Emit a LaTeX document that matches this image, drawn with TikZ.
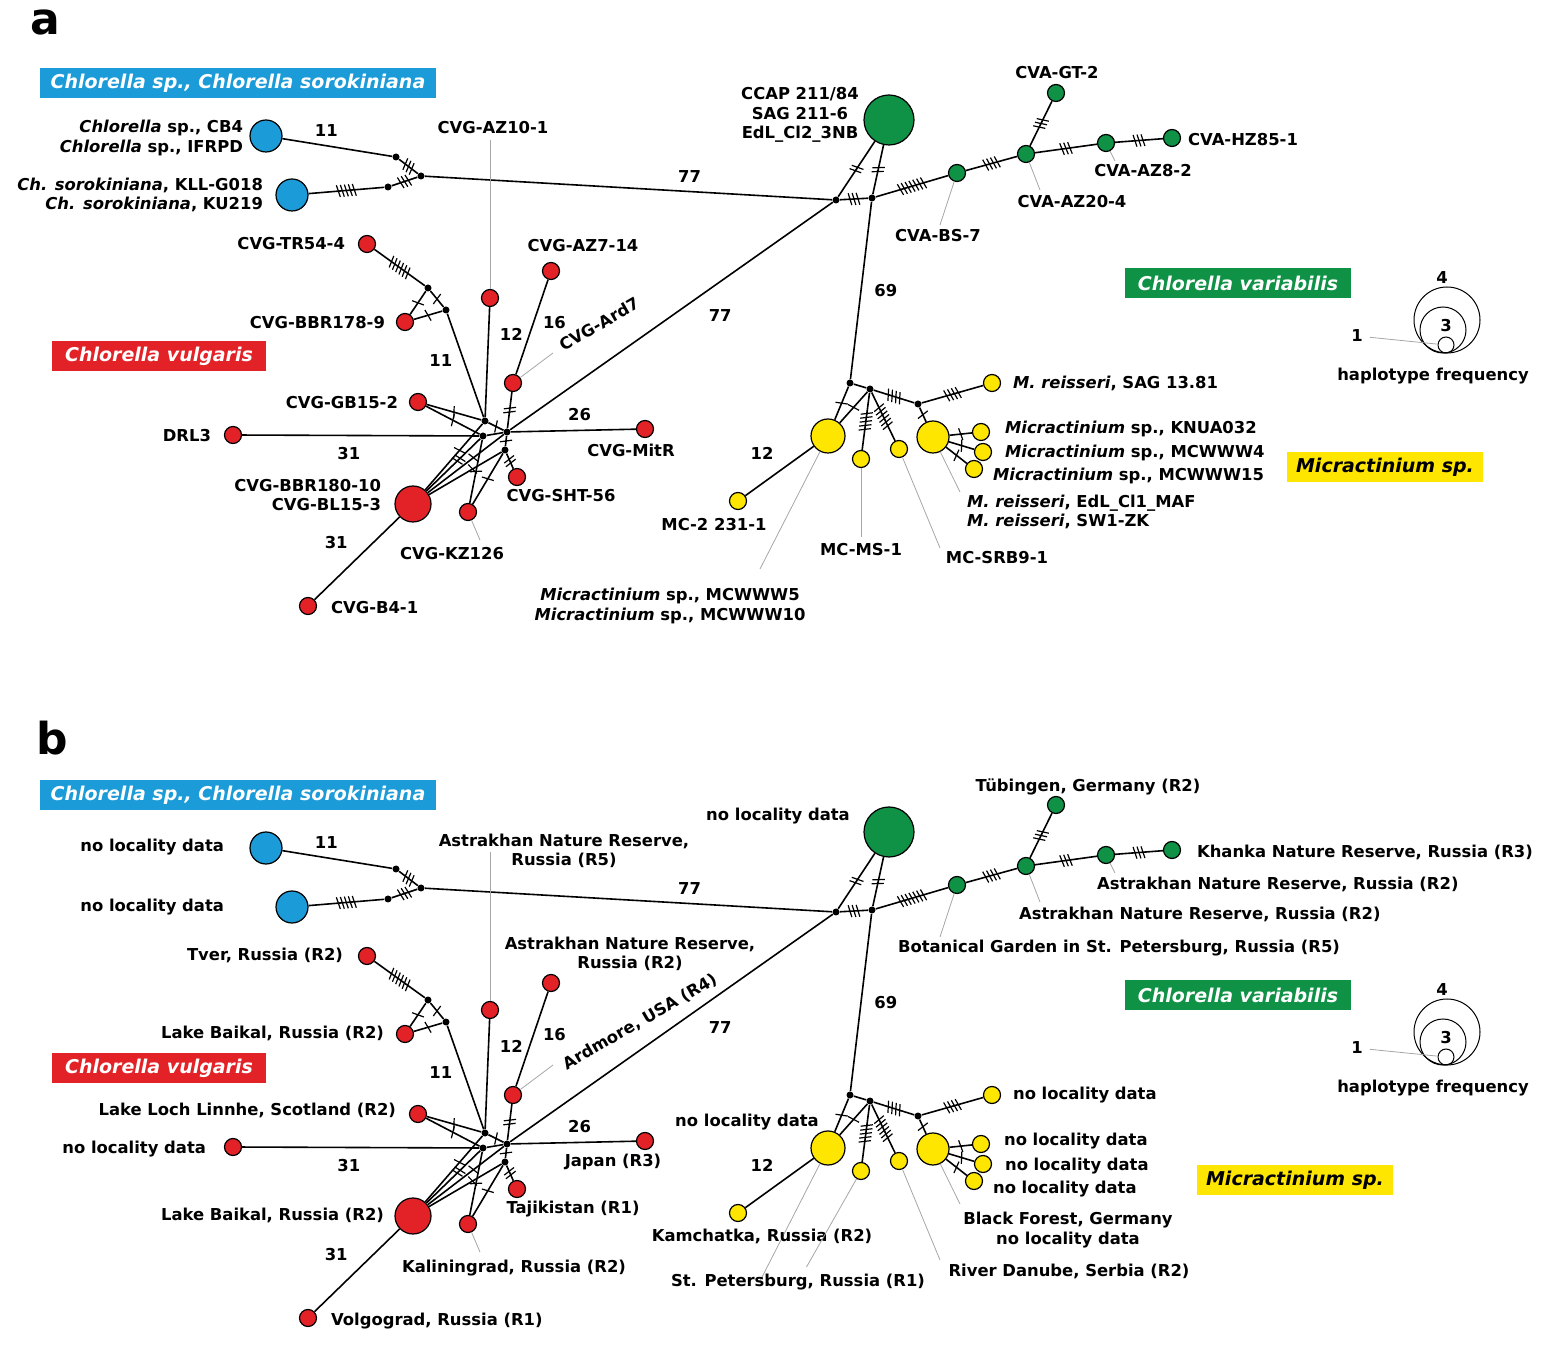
\documentclass[tikz,border=0pt]{standalone}
\usepackage{fontspec}
\setmainfont{DejaVu Sans}
\begin{document}
\definecolor{cR}{HTML}{E32227}\definecolor{cG}{HTML}{0F9146}
\definecolor{cB}{HTML}{1B9BD7}\definecolor{cY}{HTML}{FFE600}
\begin{tikzpicture}[x=0.5pt,y=-0.5pt,font=\fontsize{8.2}{9.7}\selectfont\bfseries,
  hap/.style={circle,draw=black,line width=0.6pt,inner sep=0pt,minimum size=#1},
  R/.style={hap=#1,fill=cR},G/.style={hap=#1,fill=cG},B/.style={hap=#1,fill=cB},Y/.style={hap=#1,fill=cY},
  mv/.style={circle,fill=black,inner sep=0pt,minimum size=3.5pt},
  e/.style={line width=0.8pt},
  ld/.style={draw=gray!70,line width=0.4pt},
  cat/.style={inner sep=2pt,font=\fontsize{9.5}{11}\selectfont\bfseries\itshape},
  tk/.pic={\foreach \i in {1,...,#1}{\draw[line width=0.6pt] ({(\i-(#1+1)/2)*4-1.5},-6) -- ({(\i-(#1+1)/2)*4+1.5},6);}}]
\useasboundingbox (0,0) rectangle (1549,1347);
\newcommand\hapnet[1]{%
 \node[B=16pt] (#1B1) at (266,136) {};
 \node[B=16pt] (#1B2) at (292,195) {};
 \node[mv] (#1m1) at (396,157) {};
 \node[mv] (#1m2) at (388,187) {};
 \node[mv] (#1m3) at (421,176) {};
 \node[mv] (#1J1) at (836,200) {};
 \node[mv] (#1J2) at (872,198) {};
 \node[G=25pt] (#1G0) at (889,120) {};
 \node[G=8.5pt] (#1BS) at (957,173) {};
 \node[G=8.5pt] (#1AZa) at (1026,154) {};
 \node[G=8.5pt] (#1GT) at (1056,93) {};
 \node[G=8.5pt] (#1AZb) at (1106,143) {};
 \node[G=8.5pt] (#1HZ) at (1172,138) {};
 \node[mv] (#1Y1) at (850,383) {};
 \node[mv] (#1Y2) at (870,389) {};
 \node[mv] (#1Y3) at (918,404) {};
 \node[Y=17pt] (#1YA) at (828,436) {};
 \node[Y=8.5pt] (#1MC2) at (738,501) {};
 \node[Y=8.5pt] (#1MS) at (861,459) {};
 \node[Y=8.5pt] (#1SRB) at (899,449) {};
 \node[Y=8.5pt] (#1MR) at (992,383) {};
 \node[Y=16pt] (#1YB) at (933,437) {};
 \node[Y=8.5pt] (#1K) at (981,432) {};
 \node[Y=8.5pt] (#1W4) at (983,452) {};
 \node[Y=8.5pt] (#1W15) at (974,469) {};
 \node[R=8.5pt] (#1TR) at (367,244) {};
 \node[R=8.5pt] (#1BBR) at (405,322) {};
 \node[mv] (#1r1) at (428,288) {};
 \node[mv] (#1r2) at (446,310) {};
 \node[mv] (#1h1) at (485,421) {};
 \node[mv] (#1h2) at (483,436) {};
 \node[mv] (#1h3) at (507,432) {};
 \node[mv] (#1h4) at (505,450) {};
 \node[R=8.5pt] (#1AZ10) at (490,298) {};
 \node[R=8.5pt] (#1AZ7) at (551,271) {};
 \node[R=8.5pt] (#1Ard) at (513,383) {};
 \node[R=8.5pt] (#1GB) at (418,402) {};
 \node[R=8.5pt] (#1DRL) at (233,435) {};
 \node[R=8.5pt] (#1Mit) at (645,429) {};
 \node[R=8.5pt] (#1SHT) at (517,477) {};
 \node[R=18pt] (#1BR) at (413,504) {};
 \node[R=8.5pt] (#1KZ) at (468,512) {};
 \node[R=8.5pt] (#1B4) at (308,606) {};
 \begin{scope}[e]
 \draw (#1B1) -- (#1m1) node[pos=.4,above=1pt]{11};
 \draw (#1m1) -- (#1m3) pic[pos=.5,sloped]{tk=3};
 \draw (#1B2) -- (#1m2) pic[pos=.5,sloped]{tk=5};
 \draw (#1m2) -- (#1m3) pic[pos=.5,sloped]{tk=3};
 \draw (#1m3) -- (#1J1) node[pos=.65,above=1pt]{77};
 \draw (#1J1) -- (#1J2) pic[pos=.5,sloped]{tk=3};
 \draw (#1J1) -- (#1G0) pic[pos=.5,sloped]{tk=2};
 \draw (#1J2) -- (#1G0) pic[pos=.5,sloped]{tk=2};
 \draw (#1J2) -- (#1BS) pic[pos=.5,sloped]{tk=7};
 \draw (#1BS) -- (#1AZa) pic[pos=.5,sloped]{tk=4};
 \draw (#1AZa) -- (#1GT) pic[pos=.5,sloped]{tk=3};
 \draw (#1AZa) -- (#1AZb) pic[pos=.5,sloped]{tk=3};
 \draw (#1AZb) -- (#1HZ) pic[pos=.5,sloped]{tk=3};
 \draw (#1J2) -- (#1Y1) node[pos=.5,right=3pt]{69};
 \draw (#1Y1) -- (#1Y2);
 \draw (#1Y1) -- (#1YA) pic[pos=.5,sloped]{tk=1};
 \draw (#1Y2) -- (#1YA) pic[pos=.5,sloped]{tk=1};
 \draw (#1YA) -- (#1MC2) node[pos=.45,above left=1pt]{12};
 \draw (#1Y2) -- (#1MS) pic[pos=.5,sloped]{tk=5};
 \draw (#1Y2) -- (#1SRB) pic[pos=.5,sloped]{tk=6};
 \draw (#1Y2) -- (#1Y3) pic[pos=.5,sloped]{tk=4};
 \draw (#1Y3) -- (#1MR) pic[pos=.5,sloped]{tk=4};
 \draw (#1Y3) -- (#1YB) pic[pos=.5,sloped]{tk=1};
 \draw (#1YB) -- (#1K) pic[pos=.5,sloped]{tk=1};
 \draw (#1YB) -- (#1W4) pic[pos=.5,sloped]{tk=1};
 \draw (#1YB) -- (#1W15) pic[pos=.5,sloped]{tk=1};
 \draw (#1TR) -- (#1r1) pic[pos=.5,sloped]{tk=6};
 \draw (#1r1) -- (#1BBR) pic[pos=.5,sloped]{tk=1};
 \draw (#1r2) -- (#1BBR) pic[pos=.5,sloped]{tk=1};
 \draw (#1r1) -- (#1r2) pic[pos=.5,sloped]{tk=1};
 \draw (#1r2) -- (#1h1) node[pos=.45,left=2pt]{11};
 \draw (#1AZ10) -- (#1h1) node[pos=.25,right=2pt]{12};
 \draw (#1AZ7) -- (#1Ard) node[pos=.45,right=1pt]{16};
 \draw (#1Ard) -- (#1h3) pic[pos=.5,sloped]{tk=2};
 \draw (#1GB) -- (#1h1) pic[pos=.5,sloped]{tk=1};
 \draw (#1GB) -- (#1h2) pic[pos=.5,sloped]{tk=1};
 \draw (#1DRL) -- (#1h2) node[pos=.45,below=2pt]{31};
 \draw (#1Mit) -- (#1h3) node[pos=.45,above=1pt]{26};
 \draw (#1h3) -- (#1J1) node[pos=.58,below right=2pt]{77};
 \draw (#1h1) -- (#1h3) pic[pos=.5,sloped]{tk=1};
 \draw (#1h2) -- (#1h3);
 \draw (#1h3) -- (#1h4) pic[pos=.5,sloped]{tk=1};
 \draw (#1h4) -- (#1SHT) pic[pos=.5,sloped]{tk=2};
 \draw (#1BR) -- (#1h1) pic[pos=.6,sloped]{tk=1};
 \draw (#1BR) -- (#1h2) pic[pos=.6,sloped]{tk=2};
 \draw (#1BR) -- (#1h3) pic[pos=.6,sloped]{tk=1};
 \draw (#1BR) -- (#1h4) pic[pos=.6,sloped]{tk=1};
 \draw (#1KZ) -- (#1h2) pic[pos=.5,sloped]{tk=1};
 \draw (#1KZ) -- (#1h4) pic[pos=.5,sloped]{tk=1};
 \draw (#1BR) -- (#1B4) node[pos=.5,above left=1pt]{31};
 \end{scope}
 \draw[ld] (#1AZ10) -- ++(0,-158);
 \draw[ld] (#1Ard) -- ++(40,-30);
 \draw[ld] (#1KZ) -- ++(12,28);
 \draw[ld] (#1BS) -- ++(-17,52);
 \draw[ld] (#1AZa) -- ++(14,36);
 \draw[ld] (#1AZb) -- ++(9,18);
 \draw[ld] (#1SRB) -- ++(41,99);
 \draw[ld] (#1YB) -- ++(27,55);
 \draw[ld] (#1YA) -- ++(-68,133);
 \node[hap=33pt,line width=0.5pt] (#1L4) at (1447,320) {};
 \node[hap=23pt,line width=0.5pt] (#1L3) at (1443,330) {};
 \node[hap=8pt,line width=0.5pt] (#1L1) at (1446,345) {};
 \node (#1l4) at (1442,278) {4};
 \node (#1l3) at (1446,326) {3};
 \node (#1l1) at (1357,336) {1};
 \draw[ld] (#1l1) -- (#1L1);
 \node (#1lt) at (1433,376) {haplotype frequency};
 \node[cat,fill=cB,text=white,minimum width=198pt,minimum height=15pt] (#1cB) at (238,83) {Chlorella sp., Chlorella sorokiniana};
 \node[cat,fill=cR,text=white,minimum width=107pt,minimum height=15pt] (#1cR) at (159,356) {Chlorella vulgaris};
 \node[cat,fill=cG,text=white,minimum width=113pt,minimum height=15pt] (#1cG) at (1238,283) {Chlorella variabilis};
}
% ---------- panel a
\node[font=\fontsize{22}{24}\selectfont\bfseries] (pa) at (45,22) {a};
\hapnet{a}
\node[cat,fill=cY,minimum width=98pt,minimum height=15pt] (acY) at (1385,467) {Micractinium sp.};
\node[align=center] (aG0l) at (800,115) {CCAP 211/84\\SAG 211-6\\EdL\_Cl2\_3NB};
\node (aGTl) at (1057,73) {CVA-GT-2};
\node (aHZl) at (1243,140) {CVA-HZ85-1};
\node (aAZbl) at (1143,171) {CVA-AZ8-2};
\node (aAZal) at (1072,202) {CVA-AZ20-4};
\node (aBSl) at (938,236) {CVA-BS-7};
\node[align=right,anchor=east] (aB1l) at (250,138) {\textit{Chlorella} sp., CB4\\\textit{Chlorella} sp., IFRPD};
\node[align=right,anchor=east] (aB2l) at (270,195) {\textit{Ch. sorokiniana}, KLL-G018\\\textit{Ch. sorokiniana}, KU219};
\node (aAZ10l) at (493,128) {CVG-AZ10-1};
\node[anchor=east] (aTRl) at (352,244) {CVG-TR54-4};
\node (aAZ7l) at (583,246) {CVG-AZ7-14};
\node[anchor=east] (aBBRl) at (392,323) {CVG-BBR178-9};
\node[rotate=30] (aArdl) at (599,324) {CVG-Ard7};
\node[anchor=east] (aGBl) at (405,403) {CVG-GB15-2};
\node[anchor=east] (aDRLl) at (218,436) {DRL3};
\node (aMitl) at (631,450) {CVG-MitR};
\node[align=right,anchor=east] (aBRl) at (388,495) {CVG-BBR180-10\\CVG-BL15-3};
\node (aSHTl) at (561,496) {CVG-SHT-56};
\node (aKZl) at (452,554) {CVG-KZ126};
\node[anchor=west] (aB4l) at (324,608) {CVG-B4-1};
\node[anchor=west] (aMRl) at (1006,383) {\textit{M. reisseri}, SAG 13.81};
\node[anchor=west] (aKl) at (998,429) {\textit{Micractinium} sp., KNUA032};
\node[anchor=west] (aW4l) at (998,453) {\textit{Micractinium} sp., MCWWW4};
\node[anchor=west] (aW15l) at (986,476) {\textit{Micractinium} sp., MCWWW15};
\node[align=left,anchor=west] (aYBl) at (960,512) {\textit{M. reisseri}, EdL\_Cl1\_MAF\\\textit{M. reisseri}, SW1-ZK};
\node (aMC2l) at (714,525) {MC-2 231-1};
\node (aMSl) at (861,550) {MC-MS-1};
\node (aSRBl) at (997,558) {MC-SRB9-1};
\node[align=center] (aYAl) at (670,606) {\textit{Micractinium} sp., MCWWW5\\\textit{Micractinium} sp., MCWWW10};
\draw[ld] (aMS) -- (aMSl);
% ---------- panel b
\node[font=\fontsize{22}{24}\selectfont\bfseries] (pb) at (52,738) {b};
\begin{scope}[shift={(0,712)}]
\hapnet{b}
\end{scope}
\node[cat,fill=cY,minimum width=98pt,minimum height=15pt] (bcY) at (1295,1180) {Micractinium sp.};
\node[anchor=east] (bB1l) at (231,847) {no locality data};
\node[anchor=east] (bB2l) at (231,907) {no locality data};
\node[align=center] (bAZ10l) at (564,851) {Astrakhan Nature Reserve,\\Russia (R5)};
\node (bG0l) at (778,816) {no locality data};
\node (bGTl) at (1088,787) {Tübingen, Germany (R2)};
\node[anchor=west] (bHZl) at (1190,852) {Khanka Nature Reserve, Russia (R3)};
\node[anchor=west] (bAZbl) at (1090,884) {Astrakhan Nature Reserve, Russia (R2)};
\node[anchor=west] (bAZal) at (1012,914) {Astrakhan Nature Reserve, Russia (R2)};
\node[anchor=west] (bBSl) at (891,948) {Botanical Garden in St. Petersburg, Russia (R5)};
\node[anchor=east] (bTRl) at (350,955) {Tver, Russia (R2)};
\node[anchor=east] (bBBRl) at (391,1033) {Lake Baikal, Russia (R2)};
\node[align=center] (bAZ7l) at (630,954) {Astrakhan Nature Reserve,\\Russia (R2)};
\node[rotate=30] (bArdl) at (640,1022) {Ardmore, USA (R4)};
\node[anchor=east] (bGBl) at (403,1110) {Lake Loch Linnhe, Scotland (R2)};
\node[anchor=east] (bDRLl) at (213,1149) {no locality data};
\node (bMitl) at (613,1162) {Japan (R3)};
\node[anchor=east] (bBRl) at (391,1215) {Lake Baikal, Russia (R2)};
\node (bSHTl) at (573,1209) {Tajikistan (R1)};
\node (bKZl) at (514,1268) {Kaliningrad, Russia (R2)};
\node[anchor=west] (bB4l) at (324,1321) {Volgograd, Russia (R1)};
\node[anchor=west] (bMRl) at (1006,1095) {no locality data};
\node (bYAl) at (747,1122) {no locality data};
\node[anchor=west] (bKl) at (997,1141) {no locality data};
\node[anchor=west] (bW4l) at (998,1166) {no locality data};
\node[anchor=west] (bW15l) at (986,1189) {no locality data};
\node[align=center] (bYBl) at (1068,1230) {Black Forest, Germany\\no locality data};
\node (bMC2l) at (762,1236) {Kamchatka, Russia (R2)};
\node (bMSl) at (798,1282) {St. Petersburg, Russia (R1)};
\node (bSRBl) at (1069,1271) {River Danube, Serbia (R2)};
\draw[ld] (bMS) -- (bMSl);
\end{tikzpicture}
\end{document}
